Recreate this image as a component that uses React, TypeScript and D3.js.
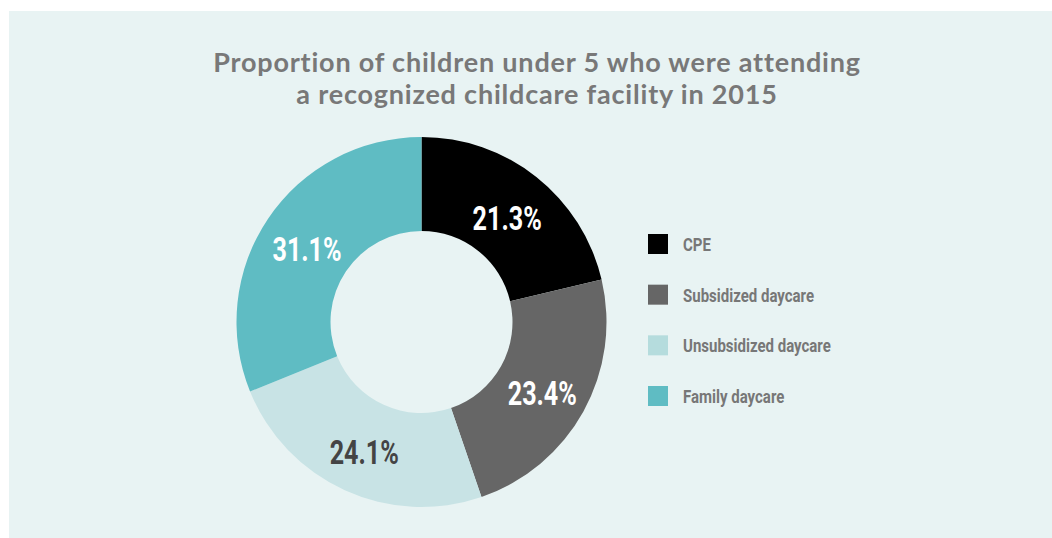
import React from "react";
import * as d3 from "d3";

const categories = ["CPE", "Subsidized daycare", "Unsubsidized daycare", "Family daycare"];
const values = [21.3, 23.4, 24.1, 31.1];
const sliceColors = ["#000000", "#666666", "#c8e3e5", "#5fbcc3"];
const legendColors = ["#000000", "#666666", "#b5dcdd", "#5fbcc3"];
const labelColors = ["#ffffff", "#ffffff", "#444444", "#ffffff"];
const titleLines = [
  "Proportion of children under 5 who were attending",
  "a recognized childcare facility in 2015",
];

const W = 1052;
const H = 538;
const cx = 421.5;
const cy = 322;
const outerR = 185;
const innerR = 91;
const condensed = "Roboto, sans-serif";
const labelSquash = 0.74;
const legendSquash = 0.79;

export default function App() {
  const pie = d3.pie<number>().sort(null).value((d) => d)(values);
  const arc = d3.arc<d3.PieArcDatum<number>>().innerRadius(innerR).outerRadius(outerR);
  const legendY = d3.scalePoint<string>().domain(categories).range([244, 396]);

  return (
    <svg width={W} height={H} style={{ position: "absolute", left: 0, top: 0 }}>
      <rect x={9} y={11} width={W - 9} height={H - 11} fill="#e8f3f3" />
      <g fontFamily="Lato, sans-serif" fontWeight={700} fontSize={27} fill="#787878" textAnchor="middle" letterSpacing={0.8}>
        {titleLines.map((t, i) => (
          <text key={i} x={537} y={72 + i * 32}>{t}</text>
        ))}
      </g>
      <g transform={`translate(${cx},${cy})`}>
        {pie.map((p, i) => (
          <path key={i} d={arc(p) || ""} fill={sliceColors[i]} />
        ))}
        {pie.map((p, i) => {
          const [x, y] = arc.centroid(p);
          return (
            <g key={"l" + i} transform={`translate(${x},${y + 4}) scale(${labelSquash},1)`}>
              <text
                x={0}
                y={0}
                dy="0.36em"
                textAnchor="middle"
                fontFamily={condensed}
                fontWeight={700}
                fontSize={34}
                fill={labelColors[i]}
              >
                {values[i].toFixed(1)}%
              </text>
            </g>
          );
        })}
      </g>
      <g>
        {categories.map((c, i) => (
          <g key={c} transform={`translate(648,${legendY(c)})`}>
            <rect x={0} y={-10} width={20} height={20} fill={legendColors[i]} />
            <g transform={`translate(35,0) scale(${legendSquash},1)`}>
              <text x={0} y={0} dy="0.36em" fontFamily={condensed} fontWeight={700} fontSize={19} fill="#777777">
                {c}
              </text>
            </g>
          </g>
        ))}
      </g>
    </svg>
  );
}
